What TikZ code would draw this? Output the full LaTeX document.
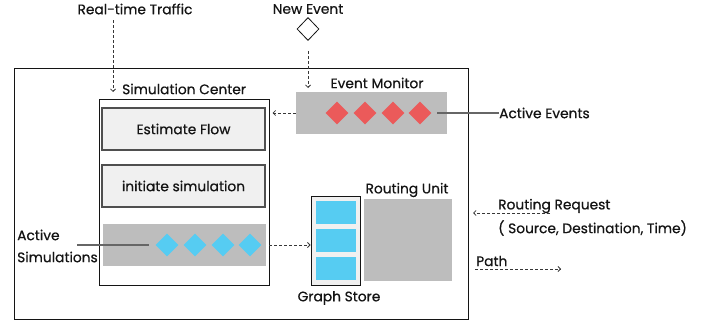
\documentclass[tikz,border=0pt]{standalone}
\usepackage{fontspec}
\setmainfont{Poppins}[FakeBold=0.6]
\usetikzlibrary{shapes.geometric,arrows.meta}
\definecolor{panel}{HTML}{BDBDBD}
\definecolor{evred}{HTML}{EB5A5A}
\definecolor{simblue}{HTML}{56CCF2}
\definecolor{boxfill}{HTML}{F0F0F0}
\definecolor{ink}{HTML}{141414}
\tikzset{
  txt/.style={inner sep=0pt, font=\fontsize{13.8}{16}\selectfont, text=ink},
  panelbox/.style={draw=none, fill=panel, inner sep=0pt, minimum width=#1},
  stagebox/.style={draw=ink!75, line width=1.1pt, fill=boxfill, inner sep=0pt,
    minimum width=163pt, minimum height=42pt, font=\fontsize{13.8}{16}\selectfont, text=ink},
  redmark/.style={diamond, fill=evred, inner sep=0pt, minimum width=23pt, minimum height=23pt},
  bluemark/.style={diamond, fill=simblue, inner sep=0pt, minimum width=23pt, minimum height=23pt},
  cell/.style={fill=simblue, draw=boxfill, line width=0.8pt, inner sep=0pt,
    minimum width=41pt, minimum height=24pt},
  flow/.style={densely dashed, draw=ink!85, line width=0.8pt,
    -{Straight Barb[length=2.5pt,width=5pt]}},
  pointer/.style={draw=ink!65, line width=1.3pt},
}
\begin{document}
\begin{tikzpicture}[x=1pt,y=-1pt]
\useasboundingbox (0,0) rectangle (716,324);

% outer system frame
\node[draw=ink, line width=0.9pt, minimum width=454pt, minimum height=251pt, inner sep=0pt] (frame) at (241,193.5) {};

% simulation center
\node[draw=ink, line width=1pt, fill=white, minimum width=170pt, minimum height=186pt, inner sep=0pt] (simc) at (184,192) {};
\node[txt, anchor=west] (simlabel) at (122,89) {Simulation Center};
\node[stagebox] (est) at (183.5,129) {Estimate Flow};
\node[stagebox] (init) at (183.5,186) {initiate simulation};
\node[panelbox=163pt, minimum height=42pt] (actsim) at (184.5,245) {};
\node[bluemark] (b1) at (167,245) {};
\node[bluemark] (b2) at (195,245) {};
\node[bluemark] (b3) at (223,245) {};
\node[bluemark] (b4) at (250,245) {};

% event monitor
\node[txt] (evlabel) at (377,83) {Event Monitor};
\node[panelbox=151pt, minimum height=42pt] (evmon) at (371.5,113) {};
\node[redmark] (r1) at (337,113) {};
\node[redmark] (r2) at (365,113) {};
\node[redmark] (r3) at (393,113) {};
\node[redmark] (r4) at (420,113) {};

% graph store and routing unit
\node[draw=ink, line width=1pt, fill=boxfill, minimum width=49pt, minimum height=89pt, inner sep=0pt] (gstore) at (335.5,240.5) {};
\node[cell] (c1) at (335.5,212) {};
\node[cell] (c2) at (335.5,240) {};
\node[cell] (c3) at (335.5,268) {};
\node[txt] (gslabel) at (339,298) {Graph Store};
\node[panelbox=88pt, minimum height=82pt] (route) at (408,240) {};
\node[txt] (rulabel) at (407,190) {Routing Unit};

% external inputs
\node[txt] (traffic) at (135,9) {Real-time Traffic};
\node[txt] (newev) at (308,9) {New Event};
\node[diamond, draw=ink, line width=0.8pt, fill=white, inner sep=0pt, minimum width=22pt, minimum height=23pt] (evd) at (308,29) {};
\coordinate (trafTop) at (113,20);
\coordinate (trafEnd) at (113,92);
\coordinate (evEnd) at (308,88);

% annotations
\node[txt, anchor=west] (actev) at (499,113) {Active Events};
\node[txt, anchor=west, align=left] (actsimlabel) at (17,246) {Active\\[6pt]Simulations};
\node[txt, anchor=west] (rreq) at (498,206) {Routing Request};
\node[txt, anchor=west] (rargs) at (498,228) {( Source, Destination, Time)};
\node[txt, anchor=west] (pathlabel) at (476,261) {Path};
\coordinate (reqStart) at (550,213);
\coordinate (reqEnd) at (473,213);
\coordinate (pathStart) at (475,269);
\coordinate (pathEnd) at (561,269);

% connectors
\draw[flow] (trafTop) -- (trafEnd);
\draw[flow] ([yshift=-10pt]evd.south) -- (evEnd);
\draw[flow] (evmon.west) -- ([xshift=3pt]simc.east |- evmon.west);
\draw[flow] ([xshift=3pt]actsim.east) -- (gstore.west |- actsim.east);
\draw[flow] (reqStart) -- (reqEnd);
\draw[flow] (pathStart) -- (pathEnd);
\draw[pointer] ([xshift=5.5pt]r4.east) -- (actev.west);
\draw[pointer] (77,245) -- ([xshift=-6.5pt]b1.west);
\end{tikzpicture}
\end{document}
